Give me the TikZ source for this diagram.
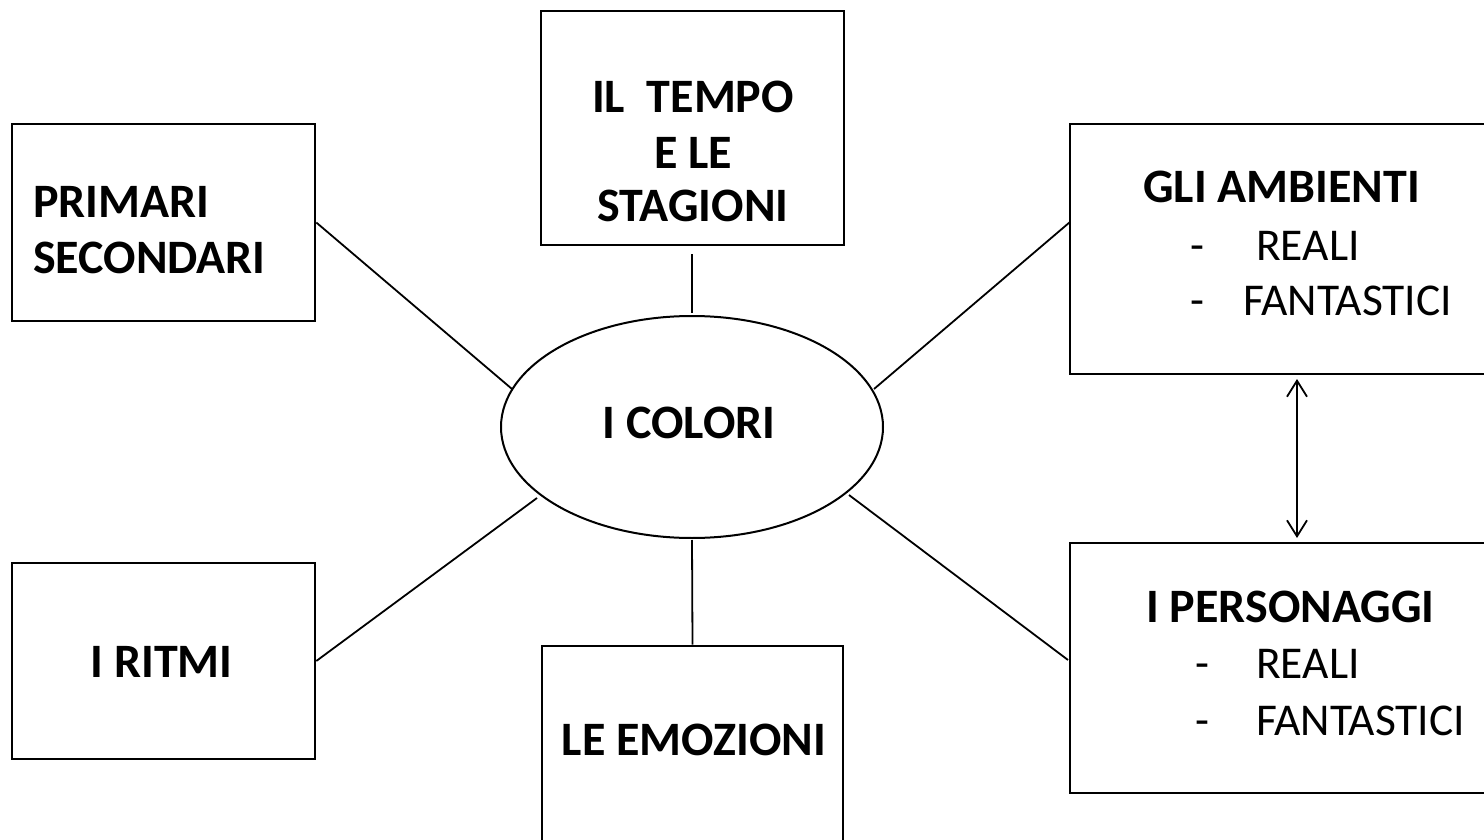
\documentclass[tikz,border=0pt]{standalone}
\usepackage{fontspec}
\setmainfont{Carlito}
\usetikzlibrary{arrows.meta,shapes.geometric}
\tikzset{
  box/.style={draw, line width=2.6pt, rectangle, inner sep=0pt},
  blob/.style={draw, line width=2pt, ellipse, inner sep=0pt, minimum width=382pt, minimum height=222pt},
  link/.style={line width=1.8pt},
  both/.style={line width=1.8pt, {Straight Barb[length=16pt,width=20pt,line width=1.8pt]}-{Straight Barb[length=16pt,width=20pt,line width=1.8pt]}},
  bt/.style={inner sep=0pt, font=\fontsize{48}{55}\selectfont\bfseries},
  rt/.style={inner sep=0pt, font=\fontsize{45.5}{55}\selectfont}
}
\begin{document}
\begin{tikzpicture}[x=1pt,y=-1pt]
\clip (0,0) rectangle (1484,840);
\fill[white] (0,0) rectangle (1484,840);
% boxes
\node[box, minimum width=303pt, minimum height=197pt] (prim) at (163.5,222.5) {};
\node[box, minimum width=303pt, minimum height=234pt] (tempo) at (692.5,128) {};
\node[box, minimum width=420pt, minimum height=250pt] (amb) at (1280,249) {};
\node[box, minimum width=303pt, minimum height=196pt] (rit) at (163.5,661) {};
\node[box, minimum width=301pt, minimum height=204pt] (emo) at (692.5,748) {};
\node[box, minimum width=420pt, minimum height=250pt] (pers) at (1280,668) {};
\node[blob] (col) at (692,427) {};
% texts
\node[bt, anchor=base west] (p1) at (33,217) {PRIMARI};
\node[bt, anchor=base west] (p2) at (33,273) {SECONDARI};
\node[bt, anchor=base] (t1) at (693,113) {IL\ \ TEMPO};
\node[bt, anchor=base] (t2) at (693,168) {E LE};
\node[bt, anchor=base] (t3) at (693,222) {STAGIONI};
\node[bt, anchor=base] (c1) at (689,438) {I COLORI};
\node[bt, anchor=base west] (a1) at (1143,203) {GLI AMBIENTI};
\node[rt, anchor=base west] (a2d) at (1190,260) {-};
\node[rt, anchor=base west] (a2) at (1256,260) {REALI};
\node[rt, anchor=base west] (a3d) at (1190,315) {-};
\node[rt, anchor=base west] (a3) at (1243,315) {FANTASTICI};
\node[bt, anchor=base] (r1) at (161.5,677) {I RITMI};
\node[bt, anchor=base] (e1) at (694,755) {LE EMOZIONI};
\node[bt, anchor=base west] (q1) at (1146,622) {I PERSONAGGI};
\node[rt, anchor=base west] (q2d) at (1195,678) {-};
\node[rt, anchor=base west] (q2) at (1256,678) {REALI};
\node[rt, anchor=base west] (q3d) at (1195,735) {-};
\node[rt, anchor=base west] (q3) at (1256,735) {FANTASTICI};
% ellipse contact points
\coordinate (cNW) at (512,389);
\coordinate (cNE) at (874,389);
\coordinate (cSW) at (537,498);
\coordinate (cSE) at (849,495);
\coordinate (cN) at (692,313);
\coordinate (cS) at (692,540);
\coordinate (tN) at (692,254);
\coordinate (aW) at (1070,222);
\coordinate (pW) at (1068,660);
\coordinate (aS) at (1297,379);
\coordinate (pN) at (1297,538);
% connectors
\draw[link] (prim.east) -- (cNW);
\draw[link] (tN) -- (cN);
\draw[link] (aW) -- (cNE);
\draw[link] (rit.east) -- (cSW);
\draw[link] (cS) -- (emo.north);
\draw[link] (cSE) -- (pW);
\draw[both] (aS) -- (pN);
\end{tikzpicture}
\end{document}
